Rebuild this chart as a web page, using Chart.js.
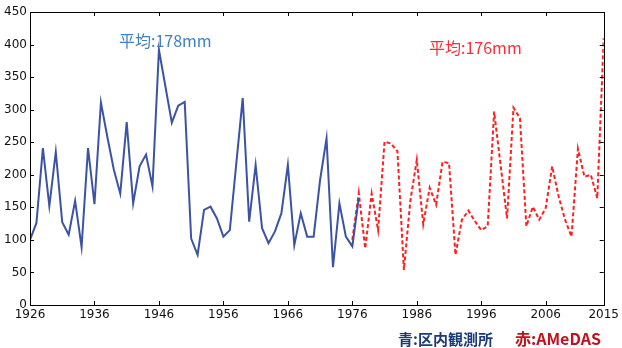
<!DOCTYPE html>
<html>
<head>
<meta charset="utf-8">
<script src="https://cdn.jsdelivr.net/npm/chart.js@4.4.0/dist/chart.umd.min.js"></script>
<style>
  html, body { margin: 0; padding: 0; background: #fff; }
  #wrap { width: 622px; height: 348px; }
</style>
</head>
<body>
<div id="wrap"><canvas id="rain" width="622" height="348"></canvas></div>
<script>
// 区内観測所 (blue), 1926-1977
const blueYears = [];
for (let y = 1926; y <= 1977; y++) blueYears.push(y);
const blueValues = [100, 126, 241, 152, 235, 127, 108, 160, 89, 241,
                    155, 311, 258, 208, 171, 281, 156, 213, 231, 182,
                    392, 336, 280, 306, 312, 102, 77, 146, 151, 133,
                    105, 115, 217, 318, 128, 215, 118, 95, 113, 141,
                    215, 92, 141, 105, 105, 192, 256, 58, 156, 105,
                    90, 164];

// AMeDAS (red), 1976-2015
const redYears = [];
for (let y = 1976; y <= 2015; y++) redYears.push(y);
const redValues = [100, 172, 87, 171, 115, 251, 248, 236, 54, 160,
                   223, 124, 180, 154, 220, 218, 77, 131, 145, 129,
                   115, 121, 297, 215, 133, 303, 287, 121, 151, 131,
                   149, 213, 167, 131, 105, 240, 197, 200, 164, 410];

const xTicks = [1926, 1936, 1946, 1956, 1966, 1976, 1986, 1996, 2006, 2015];
const yTicks = [0, 50, 100, 150, 200, 250, 300, 350, 400, 450];

const blueColor = '#3b53a4';
const redColor = '#ff1f1f';

// matplotlib style box with inward ticks + text labels
const framePlugin = {
    id: 'frame',
    afterDraw(chart) {
        const ctx = chart.ctx;
        const a = chart.chartArea;
        const xs = chart.scales.x;
        const ys = chart.scales.y;
        ctx.save();
        ctx.strokeStyle = '#000';
        ctx.lineWidth = 1;
        ctx.strokeRect(Math.round(a.left) + 0.5, Math.round(a.top) + 0.5,
                       Math.round(a.right - a.left), Math.round(a.bottom - a.top));
        ctx.beginPath();
        xTicks.forEach(t => {
            const px = Math.round(xs.getPixelForValue(t)) + 0.5;
            ctx.moveTo(px, a.bottom); ctx.lineTo(px, a.bottom - 4);
            ctx.moveTo(px, a.top); ctx.lineTo(px, a.top + 4);
        });
        yTicks.forEach(t => {
            const py = Math.round(ys.getPixelForValue(t)) + 0.5;
            ctx.moveTo(a.left, py); ctx.lineTo(a.left + 4, py);
            ctx.moveTo(a.right, py); ctx.lineTo(a.right - 4, py);
        });
        ctx.stroke();

        // averages
        ctx.textBaseline = 'middle';
        ctx.textAlign = 'left';
        ctx.font = '16px "Noto Sans CJK JP"';
        ctx.fillStyle = '#3f7fc4';
        ctx.fillText('平均:178mm', xs.getPixelForValue(1939.8), ys.getPixelForValue(405));
        ctx.fillStyle = '#f4303c';
        ctx.fillText('平均:176mm', xs.getPixelForValue(1987.9), ys.getPixelForValue(395));

        // source note
        ctx.font = 'bold 15px "Noto Sans CJK JP"';
        ctx.fillStyle = '#1d3a78';
        ctx.fillText('青:区内観測所', 398, 339);
        ctx.font = 'bold 16px "Noto Sans CJK JP"';
        ctx.fillStyle = '#c0121c';
        ctx.fillText('赤:AMeDAS', 515, 339);
        ctx.restore();
    }
};

const ctx = document.getElementById('rain').getContext('2d');
new Chart(ctx, {
    type: 'line',
    data: {
        datasets: [{
            label: '区内観測所',
            data: blueYears.map((y, i) => ({ x: y, y: blueValues[i] })),
            borderColor: blueColor,
            borderWidth: 2,
            pointRadius: 0,
            tension: 0
        }, {
            label: 'AMeDAS',
            data: redYears.map((y, i) => ({ x: y, y: redValues[i] })),
            borderColor: redColor,
            borderWidth: 2,
            borderDash: [4, 2.5],
            pointRadius: 0,
            tension: 0
        }]
    },
    options: {
        responsive: false,
        animation: false,
        layout: { padding: { top: 12, right: 14, left: 0, bottom: 0 } },
        plugins: {
            legend: { display: false },
            tooltip: { enabled: false }
        },
        scales: {
            x: {
                type: 'linear',
                min: 1926,
                max: 2015,
                afterBuildTicks: s => { s.ticks = xTicks.map(v => ({ value: v })); },
                afterFit: s => { s.height = 43; },
                grid: { display: false, drawTicks: false },
                border: { display: false },
                ticks: {
                    autoSkip: false,
                    maxRotation: 0,
                    padding: 3,
                    color: '#111',
                    font: { family: 'DejaVu Sans', size: 12 },
                    callback: v => String(v)
                }
            },
            y: {
                min: 0,
                max: 450,
                afterBuildTicks: s => { s.ticks = yTicks.map(v => ({ value: v })); },
                afterFit: s => { s.width = 30; },
                grid: { display: false, drawTicks: false },
                border: { display: false },
                ticks: {
                    padding: 3,
                    color: '#111',
                    font: { family: 'DejaVu Sans', size: 12 }
                }
            }
        }
    },
    plugins: [framePlugin]
});
</script>
</body>
</html>
